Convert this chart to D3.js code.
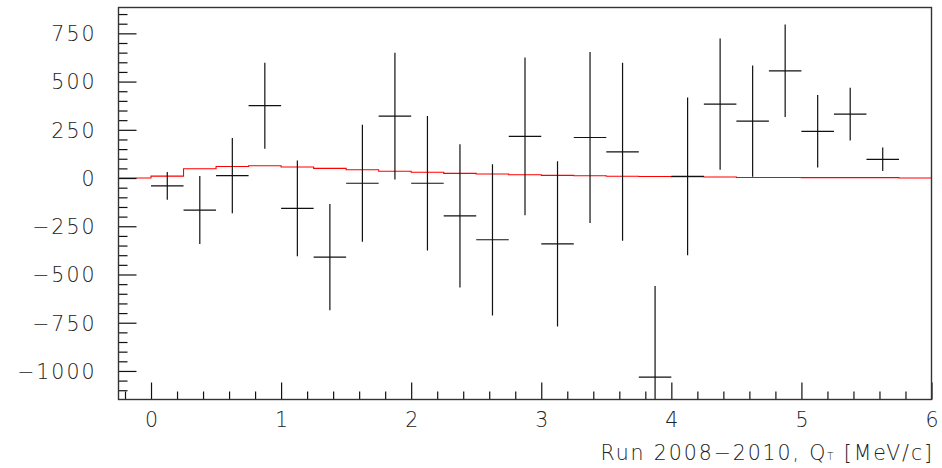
<!DOCTYPE html>
<html>
<head>
<meta charset="utf-8">
<script src="https://cdn.jsdelivr.net/npm/d3@7"></script>
<style>
  html, body { margin: 0; padding: 0; background: #fff; }
  svg text { font-family: "DejaVu Sans", sans-serif; font-weight: 200; fill: #222; }
</style>
</head>
<body>
<svg id="chart" width="942" height="468"></svg>
<script>
// Measured points: bin centres in Q_T (MeV/c), value and symmetric error
const qtCenters = [0.125, 0.375, 0.625, 0.875, 1.125, 1.375, 1.625, 1.875, 2.125, 2.375,
                   2.625, 2.875, 3.125, 3.375, 3.625, 3.875, 4.125, 4.375, 4.625, 4.875,
                   5.125, 5.375, 5.625];
const counts = [-41, -166, 12, 375, -157, -410, -27, 321, -27, -196,
                -320, 216, -341, 210, 136, -1032, 9, 383, 295, 556,
                242, 331, 97];
const errors = [72, 176, 195, 223, 248, 276, 303, 329, 349, 371,
                392, 409, 428, 443, 461, 472, 409, 340, 288, 240,
                188, 137, 61];
const binHalfWidth = 0.125;

// Model histogram (red): bin edges and contents
const modelEdges = [-0.25, 0, 0.25, 0.5, 0.75, 1, 1.25, 1.5, 1.75, 2, 2.25, 2.5, 2.75,
                    3, 3.25, 3.5, 3.75, 4, 4.25, 4.5, 4.75, 5, 5.25, 5.5, 5.75, 6];
const modelValues = [0, 10, 48, 60, 64, 57, 50, 43, 35, 30, 24, 21, 17,
                     14, 12, 9, 8, 7, 5, 3, 3, 2, 2, 2, 0];

// Axis ticks
const xMajorTicks = [0, 1, 2, 3, 4, 5, 6];
const xMinorTicks = [-0.2, 0.2, 0.4, 0.6, 0.8, 1.2, 1.4, 1.6, 1.8, 2.2, 2.4, 2.6, 2.8,
                     3.2, 3.4, 3.6, 3.8, 4.2, 4.4, 4.6, 4.8, 5.2, 5.4, 5.6, 5.8];
const yMajorTicks = [-1000, -750, -500, -250, 0, 250, 500, 750];
const yMinorTicks = [-1100, -1050, -950, -900, -850, -800, -700, -650, -600, -550,
                     -450, -400, -350, -300, -200, -150, -100, -50, 50, 100, 150, 200,
                     300, 350, 400, 450, 550, 600, 650, 700, 800, 850];

const frame = { left: 118.5, right: 931.5, top: 7.5, bottom: 399.5 };

const x = d3.scaleLinear().domain([-0.25, 6]).range([frame.left, frame.right]);
const y = d3.scaleLinear().domain([-1148, 884]).range([frame.bottom, frame.top]);

const svg = d3.select("#chart");

svg.append("defs").append("clipPath").attr("id", "plotClip")
  .append("rect")
  .attr("x", frame.left).attr("y", frame.top)
  .attr("width", frame.right - frame.left).attr("height", frame.bottom - frame.top);

const plot = svg.append("g").attr("clip-path", "url(#plotClip)");

// Model as a step histogram
const stepPoints = modelEdges.map((e, i) => [e, modelValues[Math.min(i, modelValues.length - 1)]]);
plot.append("path")
  .datum(stepPoints)
  .attr("fill", "none")
  .attr("stroke", "#ff0000")
  .attr("stroke-width", 1.1)
  .attr("d", d3.line().x(d => x(d[0])).y(d => y(d[1])).curve(d3.curveStepAfter));

// Data points with error bars
const pts = plot.selectAll("g.pt")
  .data(qtCenters.map((c, i) => ({ c, v: counts[i], e: errors[i] })))
  .join("g").attr("class", "pt");

pts.append("line")
  .attr("x1", d => x(d.c - binHalfWidth)).attr("x2", d => x(d.c + binHalfWidth))
  .attr("y1", d => y(d.v)).attr("y2", d => y(d.v))
  .attr("stroke", "#111").attr("stroke-width", 1.2);

pts.append("line")
  .attr("x1", d => x(d.c)).attr("x2", d => x(d.c))
  .attr("y1", d => y(d.v + d.e)).attr("y2", d => y(d.v - d.e))
  .attr("stroke", "#111").attr("stroke-width", 1.2);

// Axes: ticks drawn inward, left and bottom only
function styleAxis(g) {
  g.select(".domain").remove();
  g.selectAll(".tick line").attr("stroke", "#111").attr("stroke-width", 1.2);
}

svg.append("g")
  .attr("transform", `translate(${frame.left},0)`)
  .call(d3.axisLeft(y).tickValues(yMinorTicks).tickSize(-9).tickFormat(""))
  .call(styleAxis);

const yAxis = svg.append("g")
  .attr("transform", `translate(${frame.left},0)`)
  .call(d3.axisLeft(y).tickValues(yMajorTicks).tickSize(-18).tickPadding(22)
        .tickFormat(d => d < 0 ? "\u2212" + Math.abs(d) : String(d)))
  .call(styleAxis);
yAxis.selectAll("text")
  .attr("font-family", null).attr("font-size", 20.5)
  .style("letter-spacing", "2px")
  .attr("dy", "0.36em");

svg.append("g")
  .attr("transform", `translate(0,${frame.bottom})`)
  .call(d3.axisBottom(x).tickValues(xMinorTicks).tickSize(-8).tickFormat(""))
  .call(styleAxis);

const xAxis = svg.append("g")
  .attr("transform", `translate(0,${frame.bottom})`)
  .call(d3.axisBottom(x).tickValues(xMajorTicks).tickSize(-17).tickPadding(13)
        .tickFormat(d3.format("d")))
  .call(styleAxis);
xAxis.selectAll("text")
  .attr("font-family", null).attr("font-size", 20.5);

// Frame
svg.append("rect")
  .attr("x", frame.left).attr("y", frame.top)
  .attr("width", frame.right - frame.left).attr("height", frame.bottom - frame.top)
  .attr("fill", "none").attr("stroke", "#333").attr("stroke-width", 1.4);

// X-axis title
const title = svg.append("text")
  .attr("x", 934).attr("y", 460)
  .attr("text-anchor", "end")
  .attr("font-size", 20.5)
  .style("letter-spacing", "1.9px");
title.append("tspan").text("Run 2008\u22122010, Q");
title.append("tspan").attr("font-size", 10).text("T");
title.append("tspan").text(" [MeV/c]");
</script>
</body>
</html>
